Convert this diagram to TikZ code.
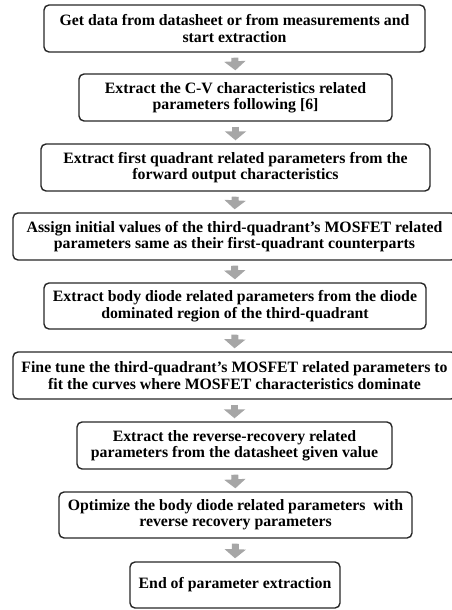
\documentclass[tikz,border=0pt]{standalone}
\usepackage{fontspec}
\setmainfont{Liberation Serif}
\usetikzlibrary{arrows.meta}
\tikzset{
  box/.style={draw=black!85, line width=1.4pt, rounded corners=5pt, align=center, inner sep=0pt,
    font=\fontsize{15.8}{16.4}\selectfont\bfseries},
  garrow/.style={draw=black!35, line width=7pt, shorten <=5pt, shorten >=3pt,
    -{Triangle[width=21pt,length=9pt]}}
}
\begin{document}
\begin{tikzpicture}[x=1pt,y=-1pt]
\clip (0,0) rectangle (452,610);
\node[box, minimum width=381pt, minimum height=47pt] (b1) at (234.5,28.5)
  {Get data from datasheet or from measurements and\\start extraction};
\node[box, minimum width=313pt, minimum height=47pt] (b2) at (235.5,97.5)
  {Extract the C-V characteristics related\\parameters following [6]};
\node[box, minimum width=389pt, minimum height=47pt] (b3) at (235.5,167.5)
  {Extract first quadrant related parameters from the\\forward output characteristics};
\node[box, minimum width=443pt, minimum height=47pt] (b4) at (234.5,236.5)
  {Assign initial values of the third-quadrant's MOSFET related\\parameters same as their first-quadrant counterparts};
\node[box, minimum width=382pt, minimum height=46pt] (b5) at (235,306)
  {Extract body diode related parameters from the diode\\dominated region of the third-quadrant};
\node[box, minimum width=443pt, minimum height=47pt] (b6) at (234.5,375.5)
  {Fine tune the third-quadrant's MOSFET related parameters to\\fit the curves where MOSFET characteristics dominate};
\node[box, minimum width=315pt, minimum height=47pt] (b7) at (234.5,445.5)
  {Extract the reverse-recovery related\\parameters from the datasheet given value};
\node[box, minimum width=353pt, minimum height=46pt] (b8) at (235.5,515)
  {Optimize the body diode related parameters\ \ with\\reverse recovery parameters};
\node[box, minimum width=210pt, minimum height=46pt] (b9) at (235,585)
  {End of parameter extraction};
\foreach \a/\b in {b1/b2,b2/b3,b3/b4,b4/b5,b5/b6,b6/b7,b7/b8,b8/b9}
  \draw[garrow] (\a.south) -- (\b.north);
\end{tikzpicture}
\end{document}
